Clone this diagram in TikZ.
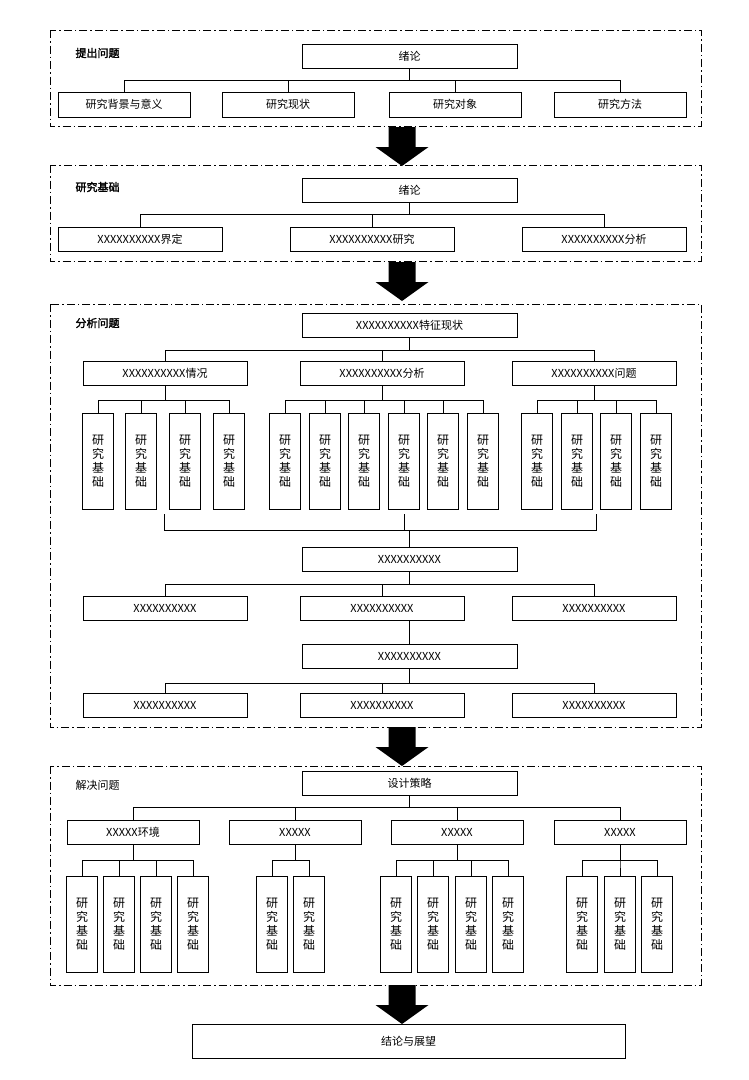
\documentclass[tikz,border=0pt]{standalone}
\usepackage{fontspec}
\setmainfont{Noto Sans CJK SC}[AutoFakeBold=2]
\begin{document}
\begin{tikzpicture}[x=1pt,y=-1pt,
  box/.style={draw,thick,line width=0.8pt,inner sep=0pt,font=\fontsize{11}{13}\selectfont},
  leaf/.style={draw,line width=0.8pt,minimum width=31pt,minimum height=96pt,inner sep=0pt,font=\fontsize{12}{14}\selectfont,align=center},
  frame/.style={draw,line width=0.7pt,dash pattern=on 8pt off 3pt on 1.5pt off 3pt},
  ttl/.style={anchor=west,font=\fontsize{11}{13}\selectfont},
  ln/.style={line width=0.8pt},
  bigarrow/.style={fill=black}]
\useasboundingbox (0,0) rectangle (748,1080);
\newcommand{\bx}[6]{\node[box,minimum width=#4pt-#2pt,minimum height=#5pt-#3pt] (#1) at ({(#2+#4)/2},{(#3+#5)/2}) {#6};}
\newcommand{\lf}[3]{\node[leaf] (#1) at (#2,#3) {研\\究\\基\\础};}
\newcommand{\bigarr}[2]{\fill[bigarrow] (#1-13.5,#2) -- (#1+13.5,#2) -- (#1+13.5,#2+20) -- (#1+26.5,#2+20) -- (#1,#2+39) -- (#1-26.5,#2+20) -- (#1-13.5,#2+20) -- cycle;}
% Section 1
\draw[frame] (50,30) rectangle (701,126);
\node[ttl] (t1) at (72,53) {\textbf{提出问题}};
\bx{a0}{302}{44}{517}{68}{绪论}
\bx{a1}{58}{92}{190}{117}{研究背景与意义}
\bx{a2}{222}{92}{354}{117}{研究现状}
\bx{a3}{389}{92}{521}{117}{研究对象}
\bx{a4}{554}{92}{686}{117}{研究方法}
\foreach \c in {a1,a2,a3,a4} \draw[ln] (a0.south) -- ++(0,12) -| (\c.north);
\bigarr{402}{127}
% Section 2
\draw[frame] (50,165) rectangle (701,261);
\node[ttl] (t2) at (72,187) {\textbf{研究基础}};
\bx{b0}{302}{178}{517}{202}{绪论}
\bx{b1}{58}{227}{222}{251}{XXXXXXXXXX界定}
\bx{b2}{290}{227}{454}{251}{XXXXXXXXXX研究}
\bx{b3}{522}{227}{686}{251}{XXXXXXXXXX分析}
\foreach \c in {b1,b2,b3} \draw[ln] (b0.south) -- ++(0,12) -| (\c.north);
\bigarr{402}{262}
% Section 3
\draw[frame] (50,304) rectangle (701,727);
\node[ttl] (t3) at (72,323) {\textbf{分析问题}};
\bx{c0}{302}{313}{517}{337}{XXXXXXXXXX特征现状}
\bx{c1}{83}{361}{247}{385}{XXXXXXXXXX情况}
\bx{c2}{300}{361}{464}{385}{XXXXXXXXXX分析}
\bx{c3}{512}{361}{676}{385}{XXXXXXXXXX问题}
\foreach \c in {c1,c2,c3} \draw[ln] (c0.south) -- ++(0,13) -| (\c.north);
\foreach \x [count=\i] in {98,141,185,229} {\lf{p\i}{\x}{461} \draw[ln] (c1.south) -- ++(0,15) -| (p\i.north);}
\foreach \x [count=\i] in {285,325,364,404,443,483} {\lf{q\i}{\x}{461} \draw[ln] (c2.south) -- ++(0,15) -| (q\i.north);}
\foreach \x [count=\i] in {537,577,616,656} {\lf{r\i}{\x}{461} \draw[ln] (c3.south) -- ++(0,15) -| (r\i.north);}
\coordinate (k1) at (164,514);
\coordinate (k2) at (596,514);
\coordinate (k3) at (404,514);
\bx{d0}{302}{547}{517}{571}{XXXXXXXXXX}
\draw[ln] (k1) -- ++(0,16) -| (k2);
\draw[ln] (k3) -- ++(0,16);
\draw[ln] (d0.north) -- ++(0,-17);
\bx{d1}{83}{596}{247}{620}{XXXXXXXXXX}
\bx{d2}{300}{596}{464}{620}{XXXXXXXXXX}
\bx{d3}{512}{596}{676}{620}{XXXXXXXXXX}
\foreach \c in {d1,d2,d3} \draw[ln] (d0.south) -- ++(0,13) -| (\c.north);
\bx{e0}{302}{644}{517}{668}{XXXXXXXXXX}
\draw[ln] (e0.north) -- ++(0,-24);
\bx{e1}{83}{693}{247}{717}{XXXXXXXXXX}
\bx{e2}{300}{693}{464}{717}{XXXXXXXXXX}
\bx{e3}{512}{693}{676}{717}{XXXXXXXXXX}
\foreach \c in {e1,e2,e3} \draw[ln] (e0.south) -- ++(0,15) -| (\c.north);
\bigarr{402}{727}
% Section 4
\draw[frame] (50,766) rectangle (701,985);
\node[ttl] (t4) at (72,785) {解决问题};
\bx{f0}{302}{771}{517}{795}{设计策略}
\bx{f1}{67}{820}{199}{844}{XXXXX环境}
\bx{f2}{229}{820}{361}{844}{XXXXX}
\bx{f3}{391}{820}{523}{844}{XXXXX}
\bx{f4}{554}{820}{686}{844}{XXXXX}
\foreach \c in {f1,f2,f3,f4} \draw[ln] (f0.south) -- ++(0,12) -| (\c.north);
\foreach \x [count=\i] in {82,119,156,193} {\lf{g\i}{\x}{924} \draw[ln] (f1.south) -- ++(0,16) -| (g\i.north);}
\foreach \x [count=\i] in {272,309} {\lf{h\i}{\x}{924} \draw[ln] (f2.south) -- ++(0,16) -| (h\i.north);}
\foreach \x [count=\i] in {396,433,471,508} {\lf{m\i}{\x}{924} \draw[ln] (f3.south) -- ++(0,16) -| (m\i.north);}
\foreach \x [count=\i] in {582,620,657} {\lf{n\i}{\x}{924} \draw[ln] (f4.south) -- ++(0,16) -| (n\i.north);}
\bigarr{402}{985}
\bx{z0}{192}{1024}{625}{1058}{结论与展望}
\end{tikzpicture}
\end{document}
